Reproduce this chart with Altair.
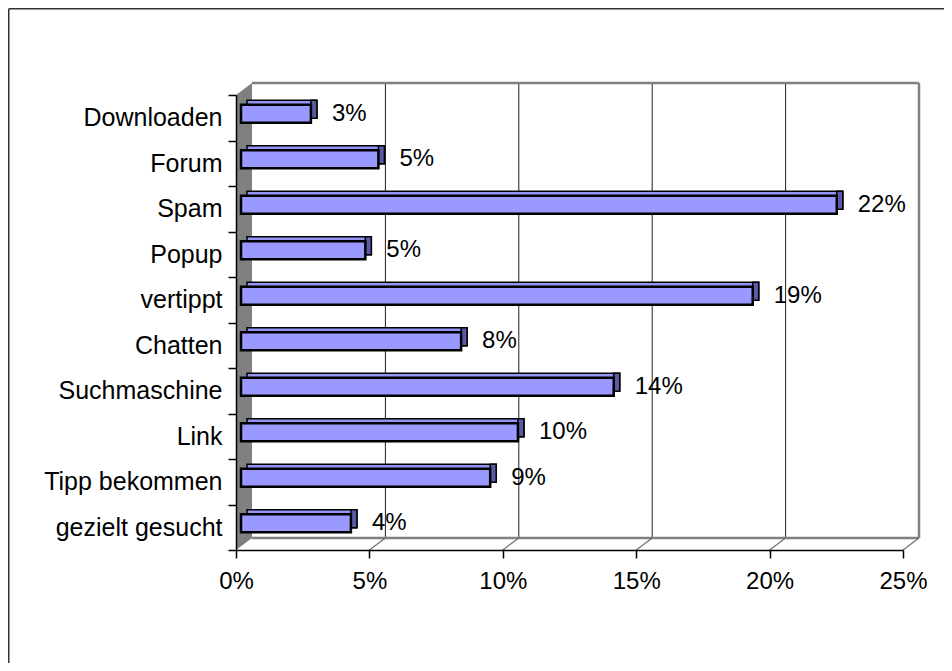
import altair as alt
import pandas as pd

# ---- data ----
categories = ["Downloaden", "Forum", "Spam", "Popup", "vertippt",
              "Chatten", "Suchmaschine", "Link", "Tipp bekommen", "gezielt gesucht"]
values = [2.62, 5.15, 22.33, 4.66, 19.18, 8.25, 13.97, 10.38, 9.34, 4.12]
x_ticks = [0, 5, 10, 15, 20, 25]

# ---- geometry (plot area = front plane) ----
W, H = 667, 455
PX = W / 25.0            # pixels per percent
DX = 16 / PX             # wall depth (x) in % units
DY = 12                  # wall depth (y) in px
BAR_SHIFT = 5 / PX
BAR_DEPTH = 6 / PX
FONT = "Liberation Sans"

xs = alt.Scale(domain=[0, 25], nice=False, zero=False)
ys = alt.Scale(domain=categories, paddingInner=0, paddingOuter=0)
pys = alt.Scale(domain=[0, H], range=[0, H], nice=False, zero=False)

x_axis = alt.Axis(values=x_ticks, labelExpr="datum.value + '%'", title=None, grid=False,
                  domainColor="black", domainWidth=1.5, tickColor="black", tickSize=8,
                  tickWidth=1.5, labelFont=FONT, labelFontSize=24, labelColor="black",
                  labelPadding=11, labelFlush=False, labelOverlap=False, zindex=1)

df = pd.DataFrame({"cat": categories, "v": values})
one = pd.DataFrame({"a": [0]})

# frame (left & top edge of the chart object)
frame_left = alt.Chart(one).mark_rule(color="#333333", strokeWidth=1.5).encode(
    x=alt.value(-227.25), y=alt.value(-86.25), y2=alt.value(700))
frame_top = alt.Chart(one).mark_rule(color="#333333", strokeWidth=1.5).encode(
    x=alt.value(-227.25), x2=alt.value(900), y=alt.value(-86.25))

# left wall polygon
wall_df = pd.DataFrame({"py": [-DY, 0, H - DY, H],
                        "xa": [DX, 0, 0, 0],
                        "xb": [DX, DX, DX, 0]})
wall = alt.Chart(wall_df).mark_area(orient="horizontal", color="#808080").encode(
    y=alt.Y("py:Q", scale=pys, axis=None),
    x=alt.X("xa:Q", scale=xs, axis=x_axis),
    x2="xb:Q")

# back wall gridlines
grid_df = pd.DataFrame({"x": [t + DX for t in x_ticks[1:-1]],
                        "y": [-DY] * 4, "y2": [H - DY] * 4})
grid = alt.Chart(grid_df).mark_rule(color="#202020", strokeWidth=1).encode(
    x=alt.X("x:Q", scale=xs, axis=x_axis),
    y=alt.Y("y:Q", scale=pys, axis=None), y2="y2:Q")

# back wall border
border_df = pd.DataFrame({
    "x": [DX, 25 + DX, DX],
    "x2": [25 + DX, 25 + DX, 25 + DX],
    "y": [-DY, -DY, H - DY],
    "y2": [-DY, H - DY, H - DY]})
border = alt.Chart(border_df).mark_rule(color="#808080", strokeWidth=2.5).encode(
    x=alt.X("x:Q", scale=xs, axis=x_axis), x2="x2:Q",
    y=alt.Y("y:Q", scale=pys, axis=None), y2="y2:Q")

# floor diagonals
diag_df = pd.DataFrame({"x": x_ticks[1:], "x2": [t + DX for t in x_ticks[1:]],
                        "y": [H] * 5, "y2": [H - DY] * 5})
diag = alt.Chart(diag_df).mark_rule(color="#707070", strokeWidth=1.2).encode(
    x=alt.X("x:Q", scale=xs, axis=x_axis), x2="x2:Q",
    y=alt.Y("y:Q", scale=pys, axis=None), y2="y2:Q")

base = alt.Chart(df).transform_calculate(
    f0=f"{BAR_SHIFT}", f1=f"datum.v + {BAR_SHIFT}",
    b0=f"{BAR_SHIFT + BAR_DEPTH}", b1=f"datum.v + {BAR_SHIFT + BAR_DEPTH}",
    label="format(datum.v / 100, '.0%')")

bar_top = base.mark_bar(color="#9494f4", stroke="black", strokeWidth=1.5, size=18, yOffset=-8.5).encode(
    x=alt.X("b0:Q", scale=xs, axis=x_axis), x2="b1:Q",
    y=alt.Y("cat:N", scale=ys, sort=None, axis=None))
bar_side = base.mark_bar(color="#5a5aa8", stroke="black", strokeWidth=1.5, size=18, yOffset=-8.5).encode(
    x=alt.X("f1:Q", scale=xs, axis=x_axis), x2="b1:Q",
    y=alt.Y("cat:N", scale=ys, sort=None, axis=None))
bar_front = base.mark_bar(color="#9999FF", stroke="black", strokeWidth=2.5, size=18, yOffset=-4).encode(
    x=alt.X("f0:Q", scale=xs, axis=x_axis),
    x2="f1:Q",
    y=alt.Y("cat:N", scale=ys, sort=None,
            axis=alt.Axis(title=None, tickBand="extent", domainColor="black", domainWidth=1.5,
                          tickColor="black", tickSize=8, tickWidth=1.5, labelFont=FONT,
                          labelFontSize=25, labelColor="black", labelPadding=6,
                          labelLimit=400, zindex=1)))

labels = base.mark_text(align="left", baseline="middle", dx=26, dy=-4, fontSize=24,
                        font=FONT, color="black").encode(
    x=alt.X("v:Q", scale=xs, axis=x_axis),
    y=alt.Y("cat:N", scale=ys, sort=None, axis=None),
    text="label:N")

chart = alt.layer(wall, grid, border, diag,
                  bar_top, bar_side, bar_front, labels, frame_left, frame_top).resolve_scale(
    y="independent").properties(
    width=W, height=H,
    padding={"left": 228, "top": 87, "right": 41, "bottom": 113},
    autosize=alt.AutoSizeParams(type="none"),
    background="white").configure_view(stroke=None)

chart.save("out.html", embed_options={"renderer": "svg", "actions": False})
